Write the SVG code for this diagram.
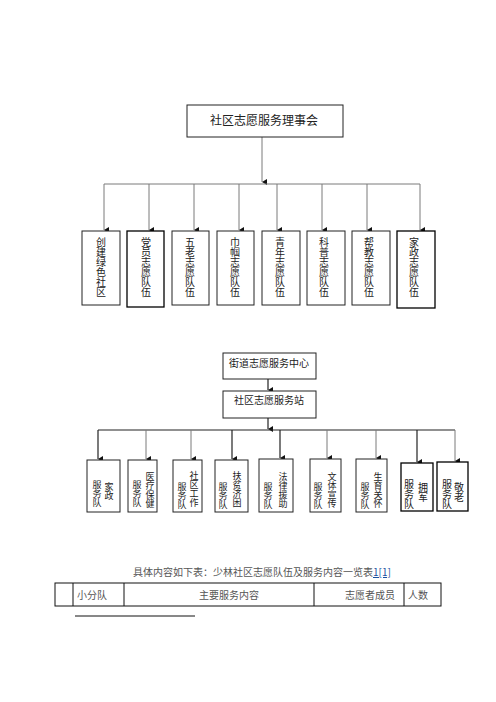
<svg xmlns="http://www.w3.org/2000/svg" width="496" height="702" viewBox="0 0 496 702">
<defs>
<marker id="ah" markerUnits="userSpaceOnUse" markerWidth="6" markerHeight="5" refX="3" refY="5" orient="auto-start-reverse" viewBox="0 0 6 5">
<path d="M0,0 L6,0 L3,5 Z" fill="#111"/>
</marker>
</defs>
<style>
.box{fill:#fff;stroke:#222;stroke-width:1}
.bx2{fill:#fff;stroke:#000;stroke-width:1.3}
.ln{stroke:#7a7a7a;stroke-width:1;fill:none}
.lk{stroke:#222;stroke-width:1.2;fill:none}
.t{font-family:"Noto Sans CJK SC","Noto Sans",sans-serif;fill:#222}
.h{font-size:12px;text-anchor:middle}
.v{writing-mode:vertical-rl;text-orientation:upright;font-size:10px}
.s{writing-mode:vertical-rl;text-orientation:upright;font-size:9px}
.c{font-family:"Noto Sans CJK SC","Noto Sans",sans-serif;fill:#555;font-size:10px}
</style>
<rect width="496" height="702" fill="#fff"/>

<g id="connectors">
<path class="ln" d="M262,137 V182" marker-end="url(#ah)"/>
<path class="ln" d="M104,184 H420"/>
<path class="ln" d="M104,184 V230" marker-end="url(#ah)"/>
<path class="ln" d="M149,184 V230" marker-end="url(#ah)"/>
<path class="ln" d="M194,184 V230" marker-end="url(#ah)"/>
<path class="ln" d="M239,184 V230" marker-end="url(#ah)"/>
<path class="ln" d="M277,184 V230" marker-end="url(#ah)"/>
<path class="ln" d="M322,184 V230" marker-end="url(#ah)"/>
<path class="ln" d="M367,184 V230" marker-end="url(#ah)"/>
<path class="ln" d="M420,184 V230" marker-end="url(#ah)"/>

<path class="lk" d="M268,379 V390" marker-end="url(#ah)"/>
<path class="lk" d="M268,418 V429" marker-end="url(#ah)"/>
<path class="lk" d="M98,430 H455"/>
<path class="lk" d="M98,430 V459" marker-end="url(#ah)"/>
<path class="ln" d="M146,430 V459" marker-end="url(#ah)"/>
<path class="ln" d="M191,430 V459" marker-end="url(#ah)"/>
<path class="lk" d="M232,430 V459" marker-end="url(#ah)"/>
<path class="lk" d="M280,430 V458" marker-end="url(#ah)"/>
<path class="ln" d="M327,430 V458" marker-end="url(#ah)"/>
<path class="ln" d="M376,430 V458" marker-end="url(#ah)"/>
<path class="lk" d="M417,430 V462" marker-end="url(#ah)"/>
<path class="ln" d="M455,430 V461" marker-end="url(#ah)"/>
</g>

<g id="n0"><rect class="box" x="187" y="105" width="156" height="32"/><text class="t h" x="264" y="125">社区志愿服务理事会</text></g>

<g id="n1"><rect class="box" x="82" y="231" width="38" height="74"/><text class="t v" x="101" y="237">创建绿色社区</text></g>
<g id="n2"><rect class="bx2" x="127" y="231" width="37" height="76"/><text class="t v" x="146" y="237">党员志愿队伍</text></g>
<g id="n3"><rect class="box" x="172" y="231" width="37" height="74"/><text class="t v" x="190" y="237">五老志愿队伍</text></g>
<g id="n4"><rect class="box" x="217" y="231" width="37" height="74"/><text class="t v" x="235" y="237">巾帼志愿队伍</text></g>
<g id="n5"><rect class="box" x="262" y="231" width="38" height="74"/><text class="t v" x="280" y="237">青年志愿队伍</text></g>
<g id="n6"><rect class="box" x="307" y="231" width="38" height="74"/><text class="t v" x="324" y="237">科普志愿队伍</text></g>
<g id="n7"><rect class="box" x="352" y="231" width="38" height="74"/><text class="t v" x="369" y="237">帮教志愿队伍</text></g>
<g id="n8"><rect class="bx2" x="397" y="231" width="38" height="77"/><text class="t v" x="414" y="237">家政志愿队伍</text></g>

<g id="m0"><rect class="box" x="223" y="353" width="93" height="26"/><text class="t h" x="269" y="367" style="font-size:10px">街道志愿服务中心</text></g>
<g id="m1"><rect class="box" x="223" y="391" width="93" height="27"/><text class="t h" x="269" y="404" style="font-size:10px">社区志愿服务站</text></g>

<g id="b1"><rect class="box" x="87" y="460" width="33" height="52"/><text class="t s" x="97" y="480">服务队</text><text class="t s" x="109" y="482">家政</text></g>
<g id="b2"><rect class="box" x="128" y="460" width="29" height="52"/><text class="t s" x="137" y="480">服务队</text><text class="t s" x="150" y="472">医疗保健</text></g>
<g id="b3"><rect class="box" x="173" y="460" width="29" height="52"/><text class="t s" x="182" y="482">服务队</text><text class="t s" x="194" y="471">社区工作</text></g>
<g id="b4"><rect class="box" x="215" y="460" width="33" height="52"/><text class="t s" x="223" y="482">服务队</text><text class="t s" x="237" y="471">扶贫济困</text></g>
<g id="b5"><rect class="box" x="259" y="459" width="34" height="53"/><text class="t s" x="268" y="482">服务队</text><text class="t s" x="283" y="472">法律援助</text></g>
<g id="b6"><rect class="box" x="310" y="459" width="31" height="53"/><text class="t s" x="318" y="482">服务队</text><text class="t s" x="332" y="472">文体宣传</text></g>
<g id="b7"><rect class="box" x="356" y="459" width="31" height="53"/><text class="t s" x="365" y="482">服务队</text><text class="t s" x="378" y="472">生育关怀</text></g>
<g id="b8"><rect class="bx2" x="401" y="463" width="32" height="48"/><text class="t s" x="409" y="479" style="font-size:10px">服务队</text><text class="t s" x="423" y="482" style="font-size:10px">拥军</text></g>
<g id="b9"><rect class="bx2" x="437" y="462" width="31" height="49"/><text class="t s" x="447" y="479" style="font-size:10px">服务队</text><text class="t s" x="459" y="482" style="font-size:10px">敬老</text></g>

<g id="caption"><text class="c" x="133" y="576">具体内容如下表：少林社区志愿队伍及服务内容一览表<tspan fill="#1a4fa0" text-decoration="underline">1[1]</tspan></text></g>

<g id="table">
<rect x="55" y="583" width="386" height="23" fill="none" stroke="#111" stroke-width="1"/>
<path d="M73,583 V606 M124,583 V606 M314,583 V606 M404,583 V606" stroke="#111" stroke-width="1"/>
<text class="c" x="77" y="599">小分队</text>
<text class="c" x="229" y="599" text-anchor="middle">主要服务内容</text>
<text class="c" x="345" y="599">志愿者成员</text>
<text class="c" x="408" y="599">人数</text>
<path d="M75,616 H195" stroke="#111" stroke-width="1"/>
</g>
</svg>
